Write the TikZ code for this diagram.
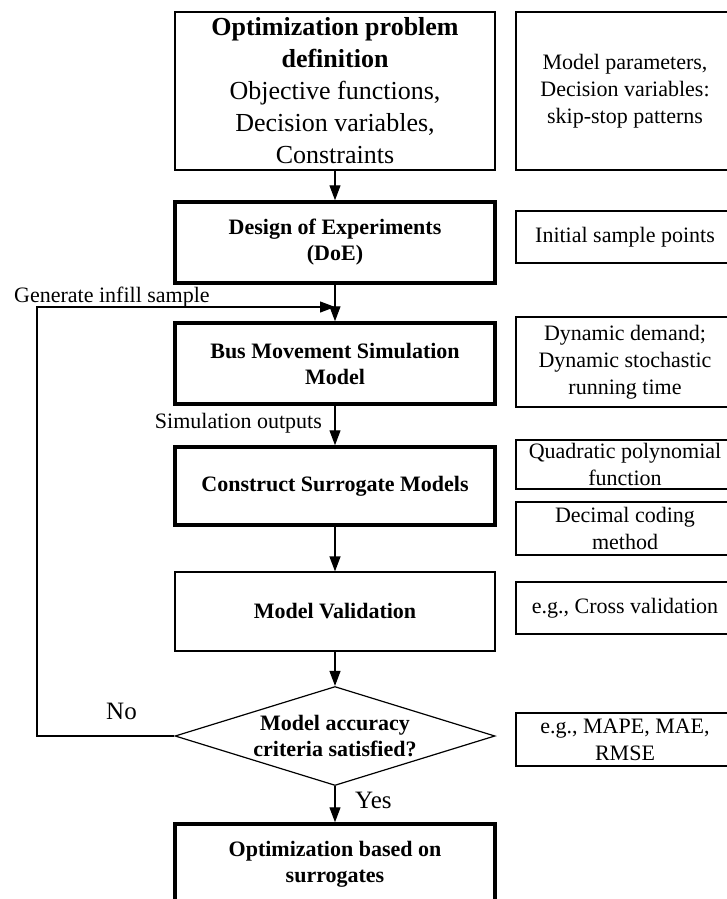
\documentclass[tikz,border=0pt]{standalone}
\usepackage{fontspec}
\setmainfont{Liberation Serif}
\usetikzlibrary{shapes.geometric,arrows.meta}

\begin{document}
\begin{tikzpicture}[x=1pt,y=-1pt,>={Triangle[length=15pt,width=11pt]}]
		\tikzset{block/.style={rectangle, draw, line width=1.2pt, align=center, minimum width=320pt, font=\fontsize{22}{26}\selectfont\bfseries}}
		\tikzset{thick block/.style={block, line width=3.5pt}}
		\tikzset{side/.style={rectangle, draw, line width=1.2pt, align=center, minimum width=218pt, font=\fontsize{22}{27}\selectfont}}
		\tikzset{tag/.style={inner sep=0pt, font=\fontsize{22}{26}\selectfont}}
		\tikzset{flow/.style={->, line width=1.2pt}}
		\useasboundingbox (0,0) rectangle (726,899);
		% main column
		\node[block, minimum height=158pt, font=\fontsize{26}{32}\selectfont] (prob) at (335, 91  ) {\textbf{Optimization problem}\\\textbf{definition}\\Objective functions,\\Decision variables,\\Constraints};
		\node[thick block, minimum height=81pt] (doe) at (335, 242.5) {Design of Experiments\\(DoE)};
		\node[thick block, minimum height=81pt] (bus) at (335, 363.5) {Bus Movement Simulation\\Model};
		\node[thick block, minimum height=78pt] (surr) at (335, 486  ) {Construct Surrogate Models};
		\node[block, minimum height=79pt] (valid) at (335, 611.5) {Model Validation};
		\node[draw, diamond, line width=1.2pt, aspect=3.2, inner sep=0pt, minimum width=320pt, minimum height=99pt, align=center, font=\fontsize{22}{26}\selectfont\bfseries] (check) at (335, 736) {Model accuracy\\criteria satisfied?};
		\node[thick block, minimum height=80pt] (optim) at (335, 864  ) {Optimization based on\\surrogates};
		% side notes
		\node[side, minimum height=158pt] (param) at (625, 91  ) {Model parameters,\\Decision variables:\\skip-stop patterns};
		\node[side, minimum height=52pt ] (init) at (625, 237 ) {Initial sample points};
		\node[side, minimum height=90pt ] (dyn) at (625, 362 ) {Dynamic demand;\\Dynamic stochastic\\running time};
		\node[side, minimum height=43pt ] (quad) at (625, 464.5) {Quadratic polynomial\\function};
		\node[side, minimum height=53pt ] (dec) at (625, 528.5) {Decimal coding\\method};
		\node[side, minimum height=52pt ] (cross) at (625, 608 ) {e.g., Cross validation};
		\node[side, minimum height=53pt ] (mape) at (625, 739.5) {e.g., MAPE, MAE,\\RMSE};
		% labels
		\node[tag, anchor=base west] (gen) at ( 14, 302) {Generate infill sample};
		\node[tag, anchor=base east] (out) at (322, 428) {Simulation outputs};
		\node[tag, anchor=base west, font=\fontsize{25}{30}\selectfont] (no) at (106, 719) {No};
		\node[tag, anchor=base west, font=\fontsize{25}{30}\selectfont] (yes) at (355, 808) {Yes};
		% connectors
		\coordinate (join) at (335, 307);
		\coordinate (corner) at ( 37, 307);
		\draw[flow] (prob)--(doe);
		\draw[flow] (doe)--(bus);
		\draw[flow] (bus)--(surr);
		\draw[flow] (surr)--(valid);
		\draw[flow] (valid)--(check);
		\draw[flow] (check)--(optim);
		\draw[flow] (check.west) -| (corner) -- (join);
	\end{tikzpicture}
\end{document}
